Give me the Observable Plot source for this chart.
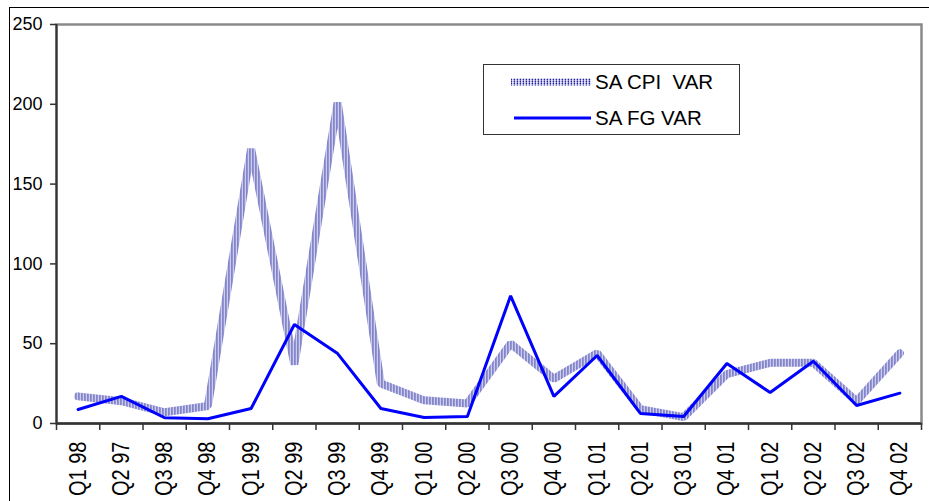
<!DOCTYPE html>
<html>
<head>
<meta charset="utf-8">
<script src="https://cdn.jsdelivr.net/npm/d3@7"></script>
<script src="https://cdn.jsdelivr.net/npm/@observablehq/plot@0.6"></script>
<style>
  html, body { margin: 0; padding: 0; background: #fff; overflow: hidden; }
  #wrap { position: relative; width: 929px; height: 501px; font-family: "Liberation Sans", Arial, sans-serif; }
  #outer { position: absolute; left: 9px; top: 7px; width: 1000px; height: 600px; border: 1.5px solid #000; pointer-events: none; }
  #legend { position: absolute; left: 483px; top: 64px; width: 257px; height: 71px; border: 1px solid #333; background: #fff; box-sizing: border-box; }
  #legend svg { display: block; }
  #legend text { font-family: "Liberation Sans", Arial, sans-serif; font-size: 20.5px; fill: #000; white-space: pre; }
  #chart g[aria-label="y-axis tick label"] text { font-size: 18px; }
  #chart g[aria-label="x-axis tick label"] text { font-size: 20px; }
</style>
</head>
<body>
<div id="wrap">
  <div id="chart"></div>
  <div id="legend"></div>
  <div id="outer"></div>
</div>
<script>
// Quarterly labels, as printed on the axis
const categories = [
  "Q1 98", "Q2 97", "Q3 98", "Q4 98", "Q1 99", "Q2 99", "Q3 99", "Q4 99",
  "Q1 00", "Q2 00", "Q3 00", "Q4 00", "Q1 01", "Q2 01", "Q3 01", "Q4 01",
  "Q1 02", "Q2 02", "Q3 02", "Q4 02"
];
// Series values
const cpiVar = [17, 14, 7, 11, 172, 37, 201, 25, 14.5, 12.5, 50, 28, 44, 9, 4, 31, 38, 38, 14, 44];
const fgVar  = [8.8, 17, 3.6, 3, 9.4, 62, 43.8, 9.4, 3.8, 4.4, 80, 17, 42.6, 6.3, 4.4, 37.6, 19.4, 39, 11.3, 19];
const yTicks = [0, 50, 100, 150, 200, 250];
const seriesNames = ["SA CPI  VAR", "SA FG VAR"];

const rows = categories.map((c, i) => ({pos: i + 0.5, label: c, cpi: cpiVar[i], fg: fgVar[i]}));
const n = categories.length;

const chart = Plot.plot({
  width: 929,
  height: 501,
  marginLeft: 56,
  marginRight: 8,
  marginTop: 24,
  marginBottom: 78,
  style: {fontFamily: "'Liberation Sans', Arial, sans-serif", background: "transparent", color: "#000"},
  x: {domain: [0, n], axis: null},
  y: {domain: [0, 250], axis: null},
  marks: [
    Plot.frame({stroke: "#8a8a8a", strokeWidth: 2.5}),
    Plot.axisY({ticks: yTicks, tickSize: 6, tickPadding: 8, fontSize: 18, stroke: "#333", strokeWidth: 1.5, label: null}),
    Plot.axisX({ticks: d3.range(n + 1), tickSize: 7, tickFormat: () => "", stroke: "#333", strokeWidth: 1.5, label: null}),
    Plot.axisX({ticks: rows.map(d => d.pos), tickSize: 0, tickPadding: 18, tickRotate: -90,
      tickFormat: v => categories[Math.floor(v)], fontSize: 20, label: null}),
    Plot.ruleX([0], {stroke: "#333", strokeWidth: 2}),
    Plot.ruleY([0], {stroke: "#333", strokeWidth: 2.5}),
    Plot.line(rows, {x: "pos", y: "cpi", stroke: "url(#cpi-texture)", strokeWidth: 8, strokeLinejoin: "miter"}),
    Plot.line(rows, {x: "pos", y: "fg", stroke: "#0000ff", strokeWidth: 3, strokeLinejoin: "miter"})
  ]
});

// dotted blue texture used for the CPI series
function addTexture(svgNode) {
  const p = d3.select(svgNode).insert("defs", ":first-child")
    .append("pattern")
    .attr("id", "cpi-texture")
    .attr("patternUnits", "userSpaceOnUse")
    .attr("width", 3).attr("height", 2);
  const cells = [
    [0, 0, "#22229c"], [0, 1, "#7878c6"],
    [1, 0, "#d2d2ef"], [1, 1, "#e6e6f7"],
    [2, 0, "#a2a2da"], [2, 1, "#d6d6f1"]
  ];
  for (const [x, y, fill] of cells) {
    p.append("rect").attr("x", x).attr("y", y).attr("width", 1).attr("height", 1).attr("fill", fill);
  }
}
addTexture(chart);

// widen the rotated quarter labels slightly across their baseline
d3.select(chart).selectAll('g[aria-label="x-axis tick label"] text').each(function() {
  const t = this.getAttribute("transform") || "";
  this.setAttribute("transform", t + " scale(1,1.18)");
});
document.getElementById("chart").appendChild(chart);

// legend box
const lg = d3.select("#legend").append("svg").attr("width", 255).attr("height", 69);
lg.append("line").attr("x1", 27).attr("x2", 107).attr("y1", 17).attr("y2", 17)
  .attr("stroke", "url(#cpi-texture)").attr("stroke-width", 7);
lg.append("text").attr("x", 111).attr("y", 24).attr("xml:space", "preserve").text(seriesNames[0]);
lg.append("line").attr("x1", 30).attr("x2", 107).attr("y1", 53).attr("y2", 53)
  .attr("stroke", "#0000ff").attr("stroke-width", 3);
lg.append("text").attr("x", 111).attr("y", 60).text(seriesNames[1]);
</script>
</body>
</html>
